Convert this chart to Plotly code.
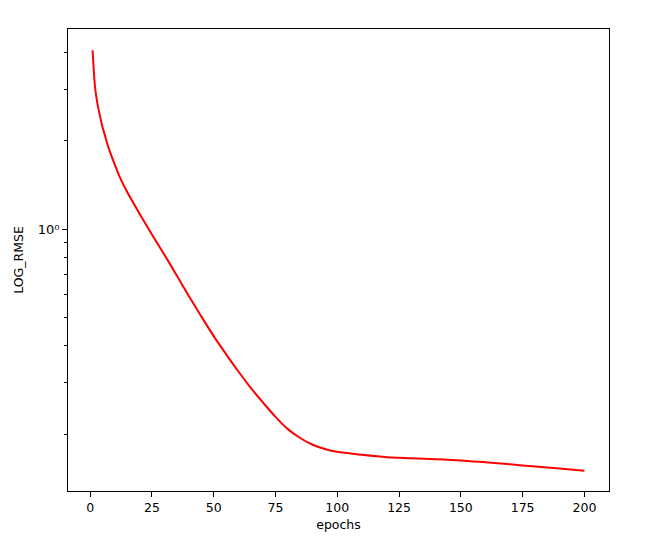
import plotly.graph_objects as go

epochs = [1, 2, 3, 4, 5, 6, 7, 8, 10, 12, 15, 20, 25, 30, 35, 40, 45, 50, 55,
          60, 65, 70, 75, 80, 85, 90, 95, 100, 110, 120, 130, 140, 150, 160, 170,
          180, 190, 200]
log_rmse = [4.08, 3.05, 2.67, 2.43, 2.23, 2.09, 1.95, 1.84, 1.66, 1.505, 1.34,
            1.13, 0.96, 0.82, 0.697, 0.591, 0.504, 0.432, 0.375, 0.327, 0.2875, 0.256,
            0.229, 0.208, 0.194, 0.184, 0.178, 0.174, 0.170, 0.1668, 0.1655, 0.1643,
            0.1627, 0.1602, 0.1577, 0.1552, 0.1528, 0.150]

x_ticks = [0, 25, 50, 75, 100, 125, 150, 175, 200]
y_major = [1]
y_major_text = ["10⁰"]
y_minor = [0.2, 0.3, 0.4, 0.5, 0.6, 0.7, 0.8, 0.9, 2, 3, 4]

fig = go.Figure()
fig.add_trace(go.Scatter(x=epochs, y=log_rmse, mode="lines",
                         line=dict(color="#ff0000", width=2, shape="spline", smoothing=0.8),
                         showlegend=False))

font = dict(family="DejaVu Sans", size=12.5, color="black")
fig.update_layout(
    width=649, height=533,
    margin=dict(l=60, r=48, t=21, b=50),
    paper_bgcolor="white", plot_bgcolor="white",
    font=font,
    xaxis=dict(range=[-8.95, 209.95], tickvals=x_ticks, showline=True, mirror=True,
               linecolor="black", linewidth=1, ticks="outside", ticklen=5,
               tickcolor="black", showgrid=False, zeroline=False, automargin=False,
               title=dict(text="epochs", font=font, standoff=6)),
    yaxis=dict(type="log", range=[-0.893, 0.683], tickvals=y_major, ticktext=y_major_text,
               tickfont=dict(family="DejaVu Sans", size=13, color="black"),
               showline=True, mirror=True, linecolor="black", linewidth=1,
               ticks="outside", ticklen=5, tickcolor="black", showgrid=False,
               zeroline=False, automargin=False,
               minor=dict(tickvals=y_minor, ticks="outside", ticklen=3,
                          tickcolor="black", showgrid=False),
               title=dict(text="LOG_RMSE", font=font, standoff=11)),
)
fig.write_html("out.html")
